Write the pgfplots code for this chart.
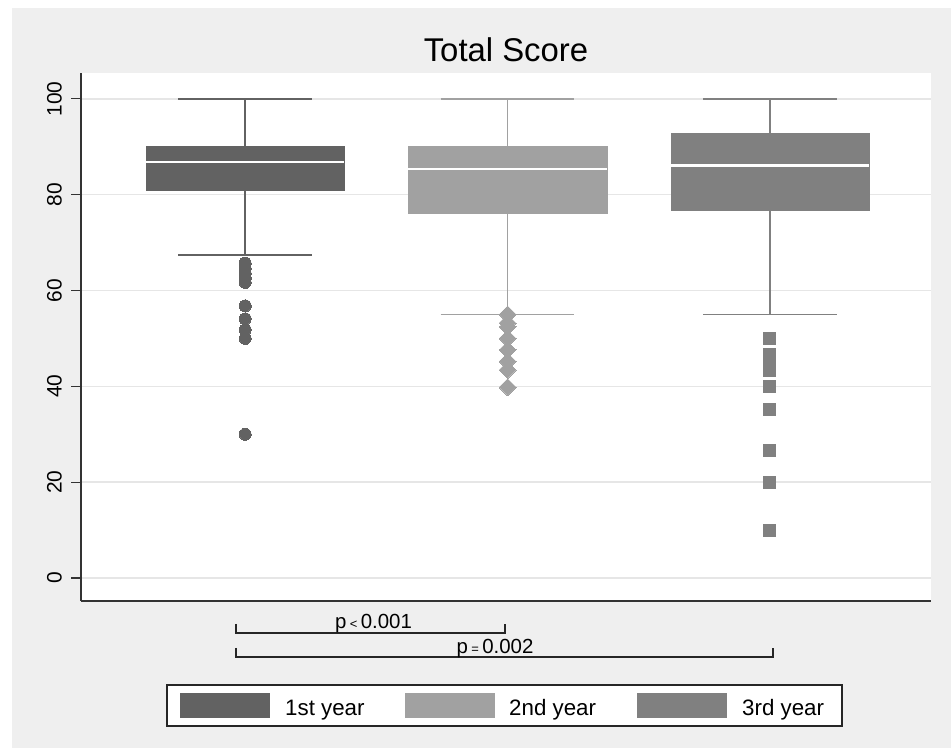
\documentclass[border=0pt]{standalone}
\usepackage{fontspec}
\setmainfont{Liberation Sans}
\usepackage{pgfplots}
\pgfplotsset{compat=1.18}
\definecolor{bg}{HTML}{EFEFEF}
\definecolor{c1}{HTML}{626262}
\definecolor{c2}{HTML}{A1A1A1}
\definecolor{c3}{HTML}{808080}
\definecolor{gridc}{HTML}{E6E6E6}
\pgfplotstableread{
x y
1 65.7
1 64.6
1 63.6
1 62.6
1 61.7
1 56.8
1 54.1
1 51.8
1 50.0
1 30.0
}\outA
\pgfplotstableread{
x y
2 55.0
2 53.2
2 52.4
2 50.0
2 47.6
2 45.2
2 43.4
2 39.8
}\outB
\pgfplotstableread{
x y
3 50.0
3 46.7
3 45.6
3 44.5
3 43.4
3 40.0
3 35.1
3 26.6
3 19.9
3 9.9
}\outC
\begin{document}
\begin{tikzpicture}
\begin{scope}[x=1bp,y=1bp]
\useasboundingbox (0,0) rectangle (951,748);
\fill[white] (0,0) rectangle (951,748);
\fill[bg] (12,0) rectangle (951,740);
\end{scope}
\begin{axis}[
  at={(81bp,147bp)}, anchor=south west, scale only axis,
  width=850bp, height=528bp,
  xmin=0.374, xmax=3.614, ymin=-4.8, ymax=105.4,
  axis background/.style={fill=white},
  axis x line*=bottom, axis y line*=left,
  axis line style={line width=1.2bp, color=black!80, -},
  xtick=\empty, ytick={0,20,...,100},
  ymajorgrids, grid style={gridc, line width=1.5bp},
  tick align=outside, major tick length=10bp,
  tick style={line width=1.2bp, black!80},
  /pgf/number format/assume math mode=true,
  yticklabel style={rotate=90, anchor=south, inner sep=9bp, font=\fontsize{21}{21}\selectfont},
]
% ---- 1st year
\addplot[c1, line width=1.6bp, forget plot] coordinates {(1,90.2) (1,100)};
\addplot[c1, line width=1.6bp, forget plot] coordinates {(1,80.9) (1,67.4)};
\addplot[c1, line width=1.6bp, forget plot] coordinates {(0.745,100) (1.255,100)};
\addplot[c1, line width=1.6bp, forget plot] coordinates {(0.745,67.4) (1.255,67.4)};
\addplot[fill=c1, draw=c1, line width=0.5bp, forget plot] coordinates {(0.622,80.9) (1.378,80.9) (1.378,90.2) (0.622,90.2)} -- cycle;
\addplot[white, line width=2.5bp, forget plot] coordinates {(0.622,86.8) (1.378,86.8)};
\addplot[only marks, mark=*, mark size=6bp, mark options={fill=c1, draw=c1, line width=0pt}, forget plot] table[x=x, y=y] {\outA};
% ---- 2nd year
\addplot[c2, line width=1.6bp, forget plot] coordinates {(2,90.2) (2,100)};
\addplot[c2, line width=1.6bp, forget plot] coordinates {(2,76.2) (2,55)};
\addplot[c2, line width=1.6bp, forget plot] coordinates {(1.745,100) (2.255,100)};
\addplot[c2, line width=1.6bp, forget plot] coordinates {(1.745,55) (2.255,55)};
\addplot[fill=c2, draw=c2, line width=0.5bp, forget plot] coordinates {(1.622,76.2) (2.378,76.2) (2.378,90.2) (1.622,90.2)} -- cycle;
\addplot[white, line width=2.5bp, forget plot] coordinates {(1.622,85.4) (2.378,85.4)};
\addplot[only marks, mark=square*, mark size=6bp, mark options={fill=c2, draw=c2, rotate=45, line width=0pt}, forget plot] table[x=x, y=y] {\outB};
% ---- 3rd year
\addplot[c3, line width=1.6bp, forget plot] coordinates {(3,92.8) (3,100)};
\addplot[c3, line width=1.6bp, forget plot] coordinates {(3,76.7) (3,55)};
\addplot[c3, line width=1.6bp, forget plot] coordinates {(2.745,100) (3.255,100)};
\addplot[c3, line width=1.6bp, forget plot] coordinates {(2.745,55) (3.255,55)};
\addplot[fill=c3, draw=c3, line width=0.5bp, forget plot] coordinates {(2.622,76.7) (3.378,76.7) (3.378,92.8) (2.622,92.8)} -- cycle;
\addplot[white, line width=2.5bp, forget plot] coordinates {(2.622,86.1) (3.378,86.1)};
\addplot[only marks, mark=square*, mark size=6bp, mark options={fill=c3, draw=c3, line width=0pt}, forget plot] table[x=x, y=y] {\outC};
\end{axis}
\begin{scope}[x=1bp,y=1bp]
% title
\node[anchor=base, inner sep=0pt] at (506,686.3) {\fontsize{33}{33}\selectfont Total Score};
% brackets
\draw[line width=1.1bp, black!85] (236,124)--(236,115)--(505,115)--(505,124);
\node[anchor=base, inner sep=0pt] at (373.5,119.5) {\fontsize{20.5}{20.5}\selectfont p\,{\fontsize{13}{13}\selectfont <}\,0.001};
\draw[line width=1.1bp, black!85] (236,100)--(236,91)--(773,91)--(773,100);
\node[anchor=base, inner sep=0pt] at (495,94.5) {\fontsize{20.5}{20.5}\selectfont p\,{\fontsize{13}{13}\selectfont =}\,0.002};
% legend
\draw[fill=white, draw=black!85, line width=1.1bp] (167,22) rectangle (842,63);
\fill[c1] (180,30) rectangle (270,55);
\node[anchor=base west, inner sep=0pt] at (285,32) {\fontsize{22.4}{22.4}\selectfont 1st year};
\fill[c2] (405,30) rectangle (495,55);
\node[anchor=base west, inner sep=0pt] at (509,32) {\fontsize{22.4}{22.4}\selectfont 2nd year};
\fill[c3] (637,30) rectangle (727,55);
\node[anchor=base west, inner sep=0pt] at (742,32) {\fontsize{22.4}{22.4}\selectfont 3rd year};
\end{scope}
\end{tikzpicture}
\end{document}
